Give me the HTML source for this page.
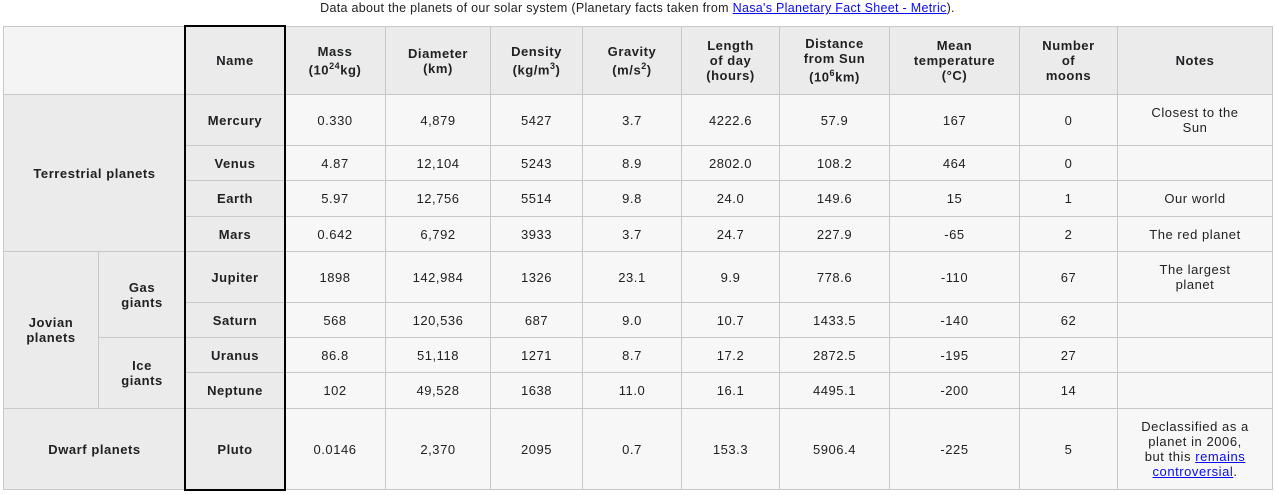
<!DOCTYPE html>
<html><head><meta charset="utf-8">
<style>
body{margin:0;width:1275px;height:495px;background:#fff;font-family:"Liberation Sans",Arial,sans-serif;font-size:13px;letter-spacing:0.55px;color:#202122;position:relative;overflow:hidden}
.cap{position:absolute;left:0;top:0;width:1275px;text-align:center;line-height:16px;font-size:12.5px;letter-spacing:0.3px}
.cap a{color:#0b0bee}
table{position:absolute;left:3px;top:26px;border-collapse:collapse;table-layout:fixed;width:1269px}
td,th{border:1px solid #c8c8c8;text-align:center;vertical-align:middle;padding:0 6px;line-height:15px}
th{background:#ebebeb;font-weight:bold}
td{background:#f7f7f7}
th.corner{background:#f4f4f4}
th.grp{padding:0 12px}
td.note{padding:0 22px}
td a{color:#0b0bee}
.box{position:absolute;left:184px;top:25px;width:98px;height:462px;border:2px solid #000;pointer-events:none}
</style></head><body>
<div class="cap">Data about the planets of our solar system (Planetary facts taken from <a href="#">Nasa's Planetary Fact Sheet - Metric</a>).</div>
<table>
<colgroup><col style="width:95px"><col style="width:87px"><col style="width:99px"><col style="width:101px"><col style="width:105px"><col style="width:92px"><col style="width:99px"><col style="width:98px"><col style="width:110px"><col style="width:130px"><col style="width:98px"><col style="width:155px"></colgroup>
<tr style="height:68px">
<th class="corner" colspan="2"></th>
<th>Name</th>
<th>Mass<br>(10<sup style="font-size:9px">24</sup>kg)</th>
<th>Diameter<br>(km)</th>
<th>Density<br>(kg/m<sup style="font-size:9px">3</sup>)</th>
<th>Gravity<br>(m/s<sup style="font-size:9px">2</sup>)</th>
<th>Length<br>of day<br>(hours)</th>
<th>Distance<br>from Sun<br>(10<sup style="font-size:9px">6</sup>km)</th>
<th>Mean<br>temperature<br>(°C)</th>
<th>Number<br>of<br>moons</th>
<th>Notes</th>
</tr>
<tr style="height:51px"><th colspan="2" rowspan="4">Terrestrial planets</th><th>Mercury</th><td>0.330</td><td>4,879</td><td>5427</td><td>3.7</td><td>4222.6</td><td>57.9</td><td>167</td><td>0</td><td class="note">Closest to the Sun</td></tr>
<tr style="height:35px"><th>Venus</th><td>4.87</td><td>12,104</td><td>5243</td><td>8.9</td><td>2802.0</td><td>108.2</td><td>464</td><td>0</td><td></td></tr>
<tr style="height:36px"><th>Earth</th><td>5.97</td><td>12,756</td><td>5514</td><td>9.8</td><td>24.0</td><td>149.6</td><td>15</td><td>1</td><td class="note">Our world</td></tr>
<tr style="height:35px"><th>Mars</th><td>0.642</td><td>6,792</td><td>3933</td><td>3.7</td><td>24.7</td><td>227.9</td><td>-65</td><td>2</td><td class="note">The red planet</td></tr>
<tr style="height:51px"><th rowspan="4" class="grp">Jovian planets</th><th rowspan="2" class="grp">Gas giants</th><th>Jupiter</th><td>1898</td><td>142,984</td><td>1326</td><td>23.1</td><td>9.9</td><td>778.6</td><td>-110</td><td>67</td><td class="note">The largest planet</td></tr>
<tr style="height:35px"><th>Saturn</th><td>568</td><td>120,536</td><td>687</td><td>9.0</td><td>10.7</td><td>1433.5</td><td>-140</td><td>62</td><td></td></tr>
<tr style="height:35px"><th rowspan="2" class="grp">Ice giants</th><th>Uranus</th><td>86.8</td><td>51,118</td><td>1271</td><td>8.7</td><td>17.2</td><td>2872.5</td><td>-195</td><td>27</td><td></td></tr>
<tr style="height:36px"><th>Neptune</th><td>102</td><td>49,528</td><td>1638</td><td>11.0</td><td>16.1</td><td>4495.1</td><td>-200</td><td>14</td><td></td></tr>
<tr style="height:81px"><th colspan="2">Dwarf planets</th><th>Pluto</th><td>0.0146</td><td>2,370</td><td>2095</td><td>0.7</td><td>153.3</td><td>5906.4</td><td>-225</td><td>5</td><td class="note">Declassified as a planet in 2006, but this <a href="#">remains controversial</a>.</td></tr>
</table>
<div class="box"></div>
</body></html>
